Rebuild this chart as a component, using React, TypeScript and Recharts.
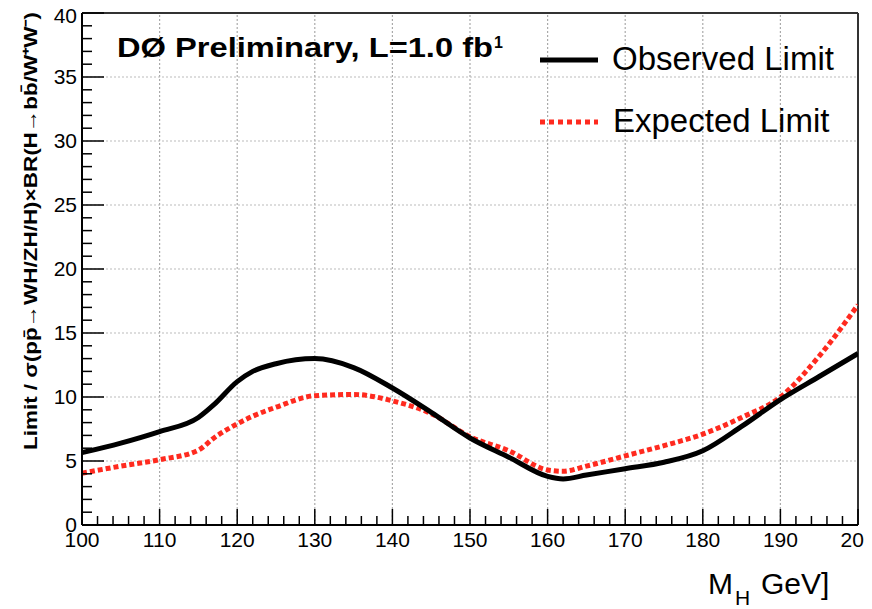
import React from 'react';
import { LineChart, Line, XAxis, YAxis, ReferenceLine, Legend } from 'recharts';

// Higgs mass points (GeV) and the limits
const massPoints = [100, 105, 110, 115, 117, 120, 122, 125, 130, 135, 140, 145, 150, 155, 160, 162, 165, 170, 175, 180, 185, 190, 195, 200];
const observedLimit = [5.65, 6.4, 7.3, 8.4, 9.4, 11.2, 12.0, 12.6, 13.0, 12.3, 10.7, 8.8, 6.8, 5.3, 3.8, 3.6, 3.9, 4.4, 4.9, 5.8, 7.7, 9.8, 11.6, 13.4];
const expectedLimit = [4.05, 4.6, 5.1, 5.85, 6.8, 7.9, 8.5, 9.2, 10.1, 10.2, 9.7, 8.7, 6.9, 5.8, 4.3, 4.2, 4.6, 5.4, 6.2, 7.1, 8.4, 10.0, 13.2, 17.2];

const xMajorTicks = [100, 110, 120, 130, 140, 150, 160, 170, 180, 190, 200];
const yMajorTicks = [0, 5, 10, 15, 20, 25, 30, 35, 40];
const xGridLines = [110, 120, 130, 140, 150, 160, 170, 180, 190];
const yGridLines = [5, 10, 15, 20, 25, 30, 35];

const chartData = massPoints.map((m, i) => ({
  mass: m,
  observed: observedLimit[i],
  expected: expectedLimit[i],
}));

// minor ticks: every 2 GeV on x, every 1 unit on y
const xTicks: number[] = [];
for (let v = 100; v <= 200; v += 2) xTicks.push(v);
const yTicks: number[] = [];
for (let v = 0; v <= 40; v += 1) yTicks.push(v);

const FONT = '"Liberation Sans", Arial, Helvetica, sans-serif';

const XTick = ({ x, y, payload }: any) => {
  const v = payload.value;
  const major = xMajorTicks.includes(v);
  return (
    <g>
      <line x1={x} x2={x} y1={y} y2={y - (major ? 16 : 9)} stroke="#000" strokeWidth={1.5} />
      {major && (
        <text x={x} y={y + 22} textAnchor="middle" fontSize={21} fontFamily={FONT} fill="#000">
          {v}
        </text>
      )}
    </g>
  );
};

const YTick = ({ x, y, payload }: any) => {
  const v = payload.value;
  const major = yMajorTicks.includes(v);
  // top label sits a little lower so it isn't clipped (as in the original)
  const baseline = Math.max(y + 7, 15);
  return (
    <g>
      <line x1={x} x2={x + (major ? 22 : 10)} y1={y} y2={y} stroke="#000" strokeWidth={1.5} />
      {major && (
        <text x={x - 5} y={baseline} textAnchor="end" fontSize={21} fontFamily={FONT} fill="#000">
          {v}
        </text>
      )}
    </g>
  );
};

const YTitle = () => (
  <text
    x={22}
    y={223}
    transform="rotate(-90, 22, 223)"
    textAnchor="middle"
    dominantBaseline="central"
    fontSize={19}
    fontWeight="bold"
    fontFamily={FONT}
    fill="#000"
    textLength={438}
    lengthAdjust="spacingAndGlyphs"
  >
    Limit / σ(pp̄→WH/ZH/H)×BR(H→bb̄/W⁺W⁻)
  </text>
);

const XTitle = () => (
  <g fontFamily={FONT} fill="#000">
    <text x={700} y={586} fontSize={30}>M</text>
    <text x={727} y={597} fontSize={21}>H</text>
    <text x={753} y={586} fontSize={30}>GeV]</text>
  </g>
);

const TitleAndLegend = () => (
  <svg width={864} height={150} style={{ position: 'absolute', left: 0, top: 0, overflow: 'visible' }}>
    <g fontFamily={FONT} fill="#000">
      <text x={109} y={49} fontSize={28} fontWeight="bold" textLength={376} lengthAdjust="spacingAndGlyphs">
        DØ Preliminary, L=1.0 fb
      </text>
      <text x={486} y={40} fontSize={16} fontWeight="bold">1</text>
      <line x1={532} x2={590} y1={52} y2={52} stroke="#000" strokeWidth={5} />
      <text x={604} y={62} fontSize={33}>Observed Limit</text>
      <line x1={532} x2={590} y1={114} y2={114} stroke="#ff2a1f" strokeWidth={5} strokeDasharray="5 4" />
      <text x={605} y={124} fontSize={33}>Expected Limit</text>
    </g>
  </svg>
);

export default function App() {
  return (
    <div style={{ width: 864, height: 601, position: 'relative', background: '#fff' }}>
      <LineChart width={864} height={601} data={chartData} margin={{ top: 5, right: 14, bottom: 54, left: 14 }}>
        <XAxis
          dataKey="mass"
          type="number"
          domain={[100, 200]}
          ticks={xTicks}
          interval={0}
          tickSize={0}
          tickMargin={0}
          tickLine={false}
          tick={<XTick />}
          height={30}
          axisLine={{ stroke: '#000', strokeWidth: 2 }}
          allowDataOverflow
          label={<XTitle />}
        />
        <YAxis
          type="number"
          domain={[0, 40]}
          ticks={yTicks}
          interval={0}
          tickSize={0}
          tickMargin={0}
          tickLine={false}
          tick={<YTick />}
          width={60}
          axisLine={{ stroke: '#000', strokeWidth: 2 }}
          allowDataOverflow
          label={<YTitle />}
        />
        {xGridLines.map((v) => (
          <ReferenceLine key={'gx' + v} x={v} stroke="#aaa" strokeWidth={1.2} strokeDasharray="2 2" />
        ))}
        {yGridLines.map((v) => (
          <ReferenceLine key={'gy' + v} y={v} stroke="#bbb" strokeWidth={1.2} strokeDasharray="2 2" />
        ))}
        <ReferenceLine y={40} stroke="#333" strokeWidth={2} />
        <ReferenceLine x={200} stroke="#333" strokeWidth={2} />
        <Legend content={<TitleAndLegend />} wrapperStyle={{ left: 0, top: 0, width: 864, height: 0, overflow: 'visible' }} />
        <Line
          type="monotone"
          dataKey="expected"
          stroke="#ff2a1f"
          strokeWidth={5}
          strokeDasharray="5 3"
          dot={false}
          isAnimationActive={false}
        />
        <Line
          type="monotone"
          dataKey="observed"
          stroke="#000"
          strokeWidth={5}
          dot={false}
          isAnimationActive={false}
        />
      </LineChart>
    </div>
  );
}
